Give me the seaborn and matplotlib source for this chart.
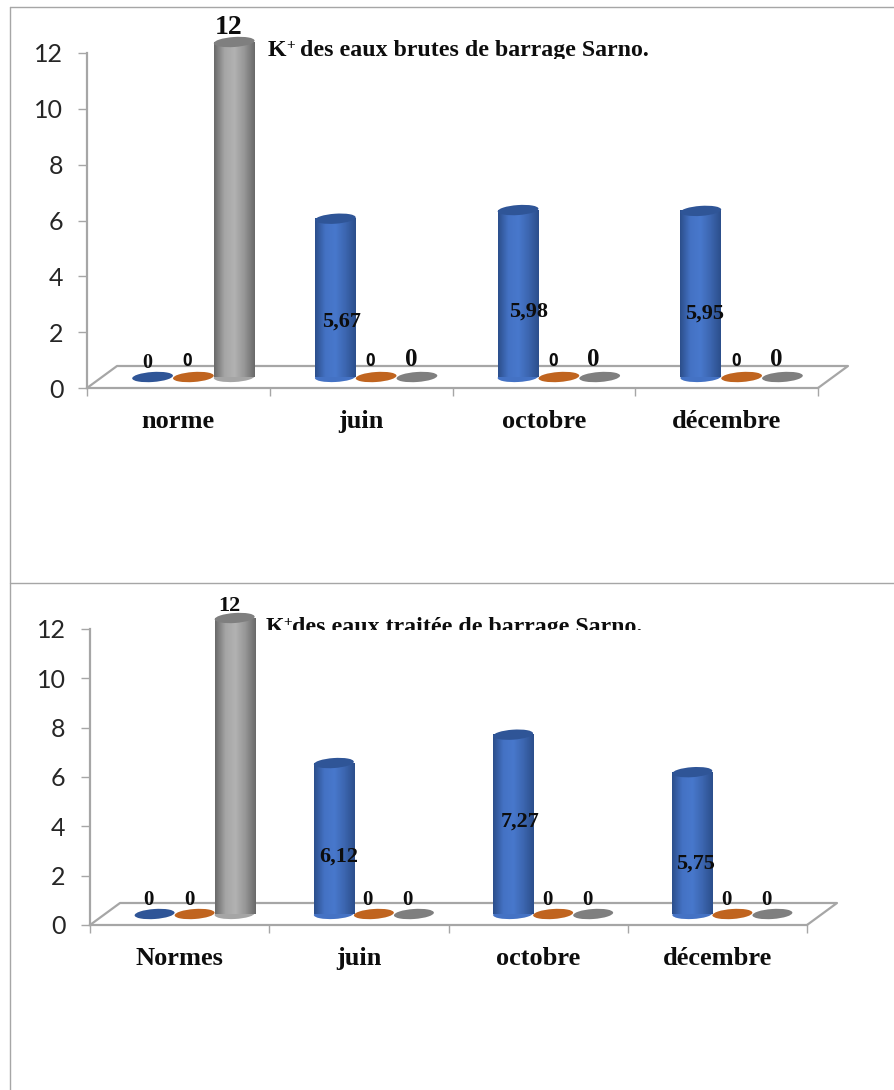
import pandas as pd
import numpy as np
import matplotlib.pyplot as plt
import seaborn as sns
from matplotlib.colors import LinearSegmentedColormap
from matplotlib.lines import Line2D
from matplotlib.patches import Ellipse, Rectangle
from matplotlib.transforms import IdentityTransform

# les valeurs
series_names = ['s1', 's2', 's3']
mois_brutes = ['norme', 'juin', 'octobre', 'décembre']
s1_brutes = [0, 5.67, 5.98, 5.95]
s2_brutes = [0, 0, 0, 0]
s3_brutes = [12, 0, 0, 0]
mois_traitees = ['Normes', 'juin', 'octobre', 'décembre']
s1_traitees = [0, 6.12, 7.27, 5.75]
s2_traitees = [0, 0, 0, 0]
s3_traitees = [12, 0, 0, 0]
yticks = [0, 2, 4, 6, 8, 10, 12]

W, H = 894, 1090
GRIS = '#A6A6A6'
SERIF = 'Liberation Serif'
SANS = 'Lato'
BOLD_SANS = 'Open Sans'
FLAT = ['#2F5597', '#C0641F', '#7F7F7F']
BASE = ['#4472C4', '#C55A11', '#A5A5A5']
CMAPS = [LinearSegmentedColormap.from_list('b', ['#2C4F8C', '#4472C4', '#4878CC', '#3C66B0', '#2C4F8C']),
         LinearSegmentedColormap.from_list('o', ['#8F4A12', '#C55A11', '#D56A1F', '#C55A11', '#8F4A12']),
         LinearSegmentedColormap.from_list('g', ['#6A6A6A', '#A5A5A5', '#B2B2B2', '#969696', '#6A6A6A'])]

sns.set_theme(style='white')
plt.rcParams['font.family'] = [SANS, 'DejaVu Sans']


def make_frame(mois, s1, s2, s3):
    rows = []
    for name, vals in zip(series_names, [s1, s2, s3]):
        for m, v in zip(mois, vals):
            rows.append({'mois': m, 'serie': name, 'val': v})
    return pd.DataFrame(rows)


def draw_chart(fig, df, mois, px, labels):
    left, right, y0, y12 = px['left'], px['right'], px['y0'], px['y12']
    ax = fig.add_axes([left / W, 1 - y0 / H, (right - left) / W, (y0 - y12) / H])
    ax.patch.set_visible(False)
    sns.barplot(data=df, x='mois', y='val', hue='serie', order=mois, hue_order=series_names,
                palette=BASE, width=0.67, legend=False, linewidth=0, saturation=1, ax=ax)
    ax.set_xlim(-0.5, 3.5)
    ax.set_ylim(0, 12)
    ax.set_xlabel('')
    ax.set_ylabel('')
    sx = (right - left) / 4
    sy = (y0 - y12) / 12
    dx = px['shift_x'] / sx
    dy = px['shift_y'] / sy

    # cylindres : degrade sur la barre et ellipses haut / bas
    for s, cont in enumerate(ax.containers):
        for c, bar in enumerate(cont):
            x, w, h = bar.get_x() + dx, bar.get_width(), bar.get_height()
            bar.set_x(x)
            bar.set_y(dy)
            bar.set_clip_on(False)
            bar.set_zorder(3)
            cx, cy = ax.transData.transform((x + w / 2, dy))
            _, top = ax.transData.transform((x + w / 2, dy + h))
            wpx = w * sx
            if h > 0:
                ax.add_patch(Ellipse((cx, cy), wpx, 10, angle=3, color=BASE[s], lw=0,
                                     transform=IdentityTransform(), clip_on=False, zorder=2.5))
                im = ax.imshow(np.linspace(0, 1, 64).reshape(1, -1), extent=(x, x + w, dy, dy + h),
                               cmap=CMAPS[s], aspect='auto', interpolation='bilinear', zorder=3.2)
                im.set_clip_on(False)
            ax.add_patch(Ellipse((cx, top), wpx, 10, angle=4, color=FLAT[s], lw=0,
                                 transform=IdentityTransform(), clip_on=False, zorder=3.5))
            if (c, s) in labels:
                lx, ly, fam, size = labels[(c, s)]
                val = df[(df.mois == mois[c]) & (df.serie == series_names[s])].val.iloc[0]
                txt = str(val).replace('.', ',').replace(',0', '')
                ax.annotate(txt, xy=(cx, cy), xycoords='figure pixels', xytext=(lx, ly), textcoords='offset pixels',
                            ha='center', va='center', family=fam, fontsize=size, fontweight='bold',
                            color='#0D0D0D', annotation_clip=False, zorder=5)
    ax.set_xlim(-0.5, 3.5)
    ax.set_ylim(0, 12)

    # plancher 3D
    back_x, back_y = px['depth_x'] / sx, px['depth_y'] / sy
    ax.plot([-0.5, -0.5 + back_x, 3.5 + back_x, 3.5], [0, back_y, back_y, 0], color=GRIS, lw=1.6,
            clip_on=False, zorder=1)

    ax.set_xticks([-0.5, 0.5, 1.5, 2.5, 3.5])
    ax.set_xticklabels([])
    ax.set_xticks([0, 1, 2, 3], minor=True)
    ax.set_xticklabels(mois, minor=True, family=SERIF, fontweight='bold', fontsize=px['xsize'], color='#0D0D0D')
    ax.tick_params(axis='x', which='major', length=5.5, width=1, color=GRIS, bottom=True)
    ax.tick_params(axis='x', which='minor', length=0, pad=px['xpad'], bottom=False)
    ax.set_yticks(yticks)
    ax.set_yticklabels([str(v) for v in yticks], fontsize=px['ysize'], color='#262626')
    ax.tick_params(axis='y', length=6.5, width=1, color=GRIS, left=True, pad=px['ypad'])
    sns.despine(ax=ax)
    for side in ['left', 'bottom']:
        ax.spines[side].set_color(GRIS)
        ax.spines[side].set_linewidth(1.6)
    return ax


def clipped_text(fig, x, y, txt, size, ycut):
    t = fig.text(x / W, 1 - y / H, txt, family=SERIF, fontweight='bold', fontsize=size, color='#0D0D0D',
                 va='baseline', ha='left')
    t.set_clip_path(Rectangle((0, H - ycut), W, ycut, transform=IdentityTransform()))
    t.set_clip_on(True)


fig = plt.figure(figsize=(W / 100, H / 100), dpi=100)

labels_1 = {(0, 0): (-5, 14, SERIF, 14.5), (0, 1): (-6, 16, BOLD_SANS, 12), (0, 2): (-6, 350, SERIF, 20),
            (1, 0): (6, 55, SERIF, 16), (1, 1): (-6, 16, BOLD_SANS, 12), (1, 2): (-6, 17, SERIF, 18),
            (2, 0): (11, 65, SERIF, 16), (2, 1): (-6, 16, BOLD_SANS, 12), (2, 2): (-6, 17, SERIF, 18),
            (3, 0): (4, 63, SERIF, 16), (3, 1): (-6, 16, BOLD_SANS, 12), (3, 2): (-6, 17, SERIF, 18)}
labels_2 = {(0, 0): (-6, 14, SERIF, 15), (0, 1): (-5, 14, SERIF, 15), (0, 2): (-5, 308, SERIF, 16),
            (1, 0): (5, 57, SERIF, 16), (1, 1): (-6, 14, SERIF, 15), (1, 2): (-6, 14, SERIF, 15),
            (2, 0): (7, 92, SERIF, 16), (2, 1): (-6, 14, SERIF, 15), (2, 2): (-6, 14, SERIF, 15),
            (3, 0): (3, 50, SERIF, 16), (3, 1): (-6, 14, SERIF, 15), (3, 2): (-6, 14, SERIF, 15)}

px_1 = dict(left=87, right=818, y0=388, y12=53, shift_x=15, shift_y=11, depth_x=30, depth_y=22,
            xsize=19, xpad=16, ysize=18, ypad=10.5)
px_2 = dict(left=90, right=807, y0=925, y12=629, shift_x=15, shift_y=11, depth_x=30, depth_y=22,
            xsize=19, xpad=16, ysize=18, ypad=11)

draw_chart(fig, make_frame(mois_brutes, s1_brutes, s2_brutes, s3_brutes), mois_brutes, px_1, labels_1)
draw_chart(fig, make_frame(mois_traitees, s1_traitees, s2_traitees, s3_traitees), mois_traitees, px_2, labels_2)

# titres, coupes en bas comme sur l'original
clipped_text(fig, 268, 56, 'K', 17.2, 59)
clipped_text(fig, 286, 49, '+', 11, 59)
clipped_text(fig, 300, 56, 'des eaux brutes de barrage Sarno.', 17.2, 59)
clipped_text(fig, 266, 633, 'K', 17.2, 630)
clipped_text(fig, 283, 626, '+', 11, 630)
clipped_text(fig, 292, 633, 'des eaux traitée de barrage Sarno.', 17.2, 630)

# cadres gris
for xs, ys in [([10, W], [7, 7]), ([10, W], [583, 583]), ([10, 10], [7, H])]:
    fig.add_artist(Line2D([x / W for x in xs], [1 - y / H for y in ys], color=GRIS, lw=1))

fig.savefig('out.png', dpi=100)
